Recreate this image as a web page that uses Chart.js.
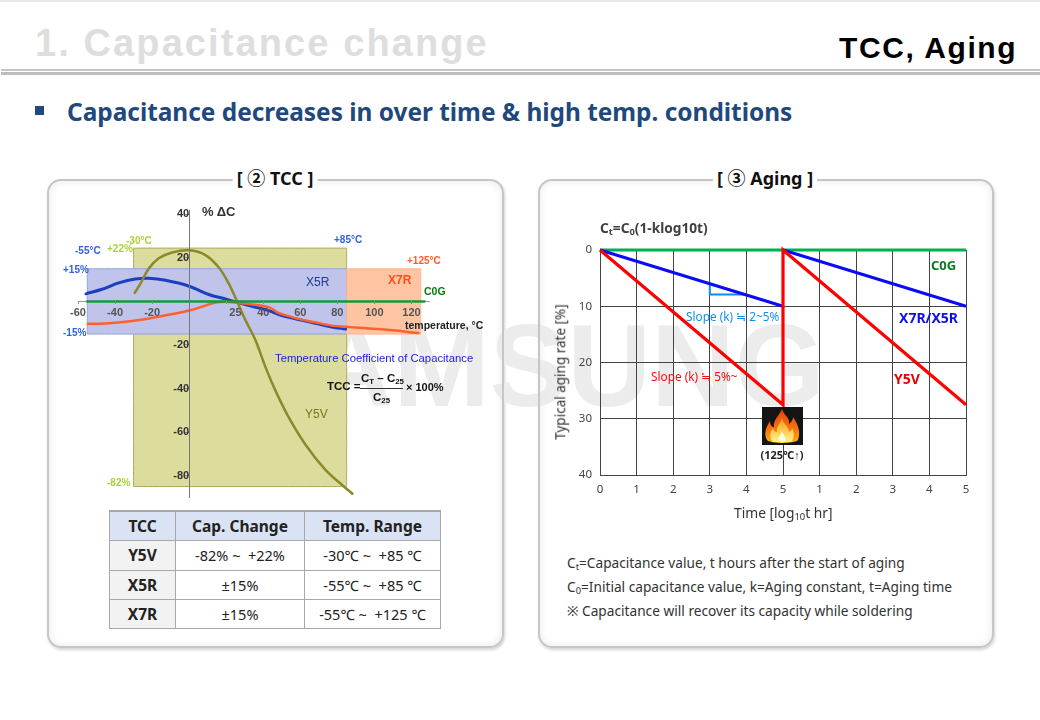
<!DOCTYPE html>
<html>
<head>
<meta charset="utf-8">
<script src="https://cdn.jsdelivr.net/npm/chart.js@4"></script>
<style>
html, body { margin: 0; padding: 0; background: #fff; overflow: hidden; }
#slide { position: relative; width: 1040px; height: 720px; overflow: hidden; font-family: "Noto Sans", sans-serif; border-top: 2px solid #e8e8e8; box-sizing: border-box; margin-top: 0; }
.abs { position: absolute; }
.t { position: absolute; white-space: nowrap; transform: translateY(-50%); line-height: 1; }
.arial { font-family: "Liberation Sans", sans-serif; font-weight: bold; }
.panelBg { position: absolute; top: 177px; height: 469px; border-radius: 14px; background: #fff; box-shadow: 1px 2px 3px #d4d4d4; box-sizing: border-box; }
.panel { position: absolute; top: 177px; height: 469px; box-sizing: border-box; border: 2px solid #c6c6c6; border-radius: 14px; box-shadow: inset 0 0 9px #e9e9e9; }
.panelTitle { position: absolute; top: 163px; height: 26px; line-height: 26px; background: #fff; padding: 0 4px; font-weight: bold; font-size: 18px; color: #111; white-space: nowrap; transform: translateX(-50%); font-family: "Noto Sans", "Noto Sans CJK KR", sans-serif; }
canvas { position: absolute; }
#tccTable { position: absolute; left: 109px; top: 508px; width: 331px; height: 119px; border-collapse: collapse; table-layout: fixed; font-size: 14.5px; color: #222; text-align: center; }
#tccTable td, #tccTable th { border: 1px solid #a8a8a8; padding: 0; }
#tccTable tr:first-child th { background: #dae3f3; border-top: 2px solid #a8a8a8; font-size: 15.5px; }
#tccTable td:first-child { background: #f2f2f2; font-weight: bold; font-size: 15.5px; }
sub { font-size: 68%; line-height: 0; vertical-align: -0.25em; }
.note { left: 567px; font-size: 13.7px; color: #333; }
</style>
</head>
<body>
<div id="slide">
  <div class="t arial" style="left:35px;top:41px;font-size:38px;letter-spacing:2.1px;color:#dedede">1. Capacitance change</div>
  <div class="t arial" style="left:839px;top:46px;font-size:30px;letter-spacing:1.6px;color:#000">TCC, Aging</div>
  <div class="abs" style="left:1px;right:0;top:67px;height:2px;background:#c4c4c4"></div>
  <div class="abs" style="left:1px;right:0;top:70px;height:3px;background:#bdbdbd"></div>
  <div class="abs" style="left:35px;top:104px;width:9px;height:9px;background:#1f497d"></div>
  <div class="t" style="left:67px;top:110px;font-size:24.4px;font-weight:bold;color:#1f497d">Capacitance decreases in over time &amp; high temp. conditions</div>

  <div class="panelBg" style="left:47px;width:457px"></div>
  <div class="panelBg" style="left:538px;width:456px"></div>

  <div class="t arial" style="left:232px;top:364px;font-size:116px;color:#ececec">SAMSUNG</div>

  <div class="panel" style="left:47px;width:457px"></div>
  <div class="panel" style="left:538px;width:456px"></div>
  <div class="panelTitle" style="left:275px">[ ② TCC ]</div>
  <div class="panelTitle" style="left:765px">[ ③ Aging ]</div>

  <canvas id="tccChart" width="440" height="314" style="left:50px;top:193px"></canvas>
  <canvas id="agingChart" width="430" height="295" style="left:550px;top:233px"></canvas>

  <!-- TCC annotations -->
  <div class="t arial" style="left:202px;top:209px;font-size:13px;color:#333">% ΔC</div>
  <div class="t arial" style="left:126px;top:239px;font-size:10px;color:#a8d436">-30°C</div>
  <div class="t arial" style="left:107px;top:247px;font-size:10px;color:#a8d436">+22%</div>
  <div class="t arial" style="left:107px;top:481px;font-size:10px;color:#a8d436">-82%</div>
  <div class="t arial" style="left:75px;top:249px;font-size:10px;color:#2f62e0">-55°C</div>
  <div class="t arial" style="left:63px;top:268px;font-size:10px;color:#2f62e0">+15%</div>
  <div class="t arial" style="left:63px;top:331px;font-size:10px;color:#2f62e0">-15%</div>
  <div class="t arial" style="left:334px;top:238px;font-size:10px;color:#2f62e0">+85°C</div>
  <div class="t arial" style="left:407px;top:259px;font-size:10px;color:#ff5b2b">+125°C</div>
  <div class="t" style="left:306px;top:280px;font-family:'Liberation Sans';font-size:12px;color:#1f3a93">X5R</div>
  <div class="t arial" style="left:388px;top:278px;font-size:12px;color:#ff4d1a">X7R</div>
  <div class="t arial" style="left:424px;top:289px;font-size:10.5px;color:#0a7a0a">C0G</div>
  <div class="t arial" style="left:405px;top:323px;font-size:10.5px;color:#222">temperature, °C</div>
  <div class="t" style="left:275px;top:357px;font-family:'Liberation Sans';font-size:11.3px;color:#2020e0">Temperature Coefficient of Capacitance</div>
  <div class="t arial" style="left:327px;top:385px;font-size:11.5px;color:#111">TCC =</div>
  <div class="t arial" style="left:361px;top:377px;font-size:11.5px;color:#111">C<sub>T</sub> – C<sub>25</sub></div>
  <div class="abs" style="left:360px;top:386px;width:43px;height:1px;background:#333"></div>
  <div class="t arial" style="left:373px;top:396px;font-size:11.5px;color:#111">C<sub>25</sub></div>
  <div class="t arial" style="left:406px;top:385px;font-size:11px;color:#111">× 100%</div>
  <div class="t" style="left:305px;top:412px;font-family:'Liberation Sans';font-size:12px;color:#77771f">Y5V</div>

  <!-- Aging annotations -->
  <div class="t" style="left:600px;top:226px;font-size:13.7px;font-weight:bold;color:#404040">C<sub>t</sub>=C<sub>0</sub>(1-klog10t)</div>
  <div class="t" style="left:931px;top:263px;font-size:13px;font-weight:bold;color:#0a7a20">C0G</div>
  <div class="t" style="left:899px;top:316px;font-size:14px;font-weight:bold;color:#1010e0">X7R/X5R</div>
  <div class="t" style="left:894px;top:377px;font-size:14px;font-weight:bold;color:#e80000">Y5V</div>
  <div class="t" style="left:686px;top:315px;font-size:11.8px;color:#1090f0">Slope (k) ≒ 2~5%</div>
  <div class="t" style="left:651px;top:375px;font-size:11.8px;color:#f01010">Slope (k) ≒ 5%~</div>
  <div class="t" style="top:370px;font-size:13.5px;color:#333;transform:translate(-50%,-50%) rotate(-90deg);left:561px">Typical aging rate [%]</div>
  <div class="t" style="left:734px;top:511px;font-size:13.8px;color:#333">Time [log<sub>10</sub>t hr]</div>

  <svg class="abs" style="left:762px;top:405px" width="41" height="38" viewBox="0 0 41 38">
    <defs>
      <linearGradient id="flameOuter" x1="0" y1="0" x2="0" y2="1">
        <stop offset="0" stop-color="#e8400c"/><stop offset="0.6" stop-color="#f5760e"/><stop offset="1" stop-color="#fbb50f"/>
      </linearGradient>
      <linearGradient id="flameInner" x1="0" y1="0" x2="0" y2="1">
        <stop offset="0" stop-color="#fb9a10"/><stop offset="1" stop-color="#fff58a"/>
      </linearGradient>
    </defs>
    <rect width="41" height="38" fill="#141414"/>
    <path d="M20 2 C22 9 28 10 27 17 C30 15 31 12 31 10 C36 17 39 25 36 33 C33 37 8 37 5 33 C1 26 5 19 8 14 C8 18 10 20 12 20 C11 13 17 9 20 2Z" fill="url(#flameOuter)"/>
    <path d="M20 11 C21 17 27 19 27 25 C29 24 30 22 30 21 C33 26 32 32 29 35 L11 35 C7 31 8 25 11 21 C12 24 13 25 15 25 C14 20 18 17 20 11Z" fill="url(#flameInner)"/>
    <path d="M20 24 C21 28 25 30 23 34 C22 36 18 36 17 34 C15 31 19 28 20 24Z" fill="#fffde0"/>
  </svg>
  <div class="t" style="left:782px;top:452px;font-size:11px;font-weight:bold;color:#222;transform:translate(-50%,-50%)">(125℃↑)</div>

  <table id="tccTable">
    <colgroup><col style="width:66px"><col style="width:129px"><col style="width:136px"></colgroup>
    <tr><th>TCC</th><th>Cap. Change</th><th>Temp. Range</th></tr>
    <tr><td>Y5V</td><td>-82% ~&nbsp; +22%</td><td>-30℃ ~&nbsp; +85 ℃</td></tr>
    <tr><td>X5R</td><td>±15%</td><td>-55℃ ~&nbsp; +85 ℃</td></tr>
    <tr><td>X7R</td><td>±15%</td><td>-55℃ ~&nbsp; +125 ℃</td></tr>
  </table>

  <div class="t note" style="top:561px">C<sub>t</sub>=Capacitance value, t hours after the start of aging</div>
  <div class="t note" style="top:585px">C<sub>0</sub>=Initial capacitance value, k=Aging constant, t=Aging time</div>
  <div class="t note" style="top:609px">※ Capacitance will recover its capacity while soldering</div>
</div>

<script>
// TCC chart values
const x5rTemp = [-55.7, -47, -38, -29, -21.8, -12.8, 0, 10.6, 19.6, 25.6, 34, 43, 50, 59, 68, 77, 84.5];
const x5rDelta = [3.5, 5.6, 8.5, 10.3, 10.6, 9.7, 7, 3.2, 1.1, -0.3, -2.2, -4.2, -6.5, -8.3, -10, -11.7, -12.7];
const x7rTemp = [-54.6, -43.4, -30.8, -18.2, 0, 8.8, 14.2, 21.4, 30, 43, 48.5, 59, 68, 77, 84.5, 104, 123.8];
const x7rDelta = [-10.3, -10, -9, -7.3, -4.2, -1.9, -0.5, -0.2, -1, -2.6, -5.4, -8, -9.6, -11.1, -11.6, -12.8, -14.5];
const y5vTemp = [-29.4, -26.3, -21.8, -16.4, -9.2, 0, 8.8, 16, 21.4, 25.6, 30.5, 35.9, 41.3, 46.7, 53.9, 62.9, 73.7, 82.7, 88.1];
const y5vDelta = [3.9, 8.2, 15.1, 19.8, 22.5, 23.5, 21.3, 15.6, 8.2, 0.5, -8.8, -18, -30.4, -41.2, -53.5, -65.9, -77.5, -84.4, -88.3];
const c0gTemp = [-55, 127];
const c0gDelta = [0, 0];
const tccAxisTemp = [-60, 130];
const tccAxisDelta = [0, 0];

// Specification windows: [from temp, to temp] and [top, bottom]
const y5vBandTemp = [-30, 85];
const y5vBandDelta = [24.5, -85];
const x5rBandTemp = [-55, 85];
const x5rBandDelta = [15, -15];
const x7rBandTemp = [85, 125];
const x7rBandDelta = [15, -15];

const tccXTicks = [-60, -40, -20, 0, 20, 25, 40, 60, 80, 100, 120];
const tccXHidden = [0, 20];
const tccYTicks = [-80, -60, -40, -20, 20, 40];

// Aging chart values
const agingX = [0, 5, 5, 5, 10];
const agingC0g = [0, 0, 0, 0, 0];
const agingX7r = [0, 10, null, 0, 10];
const agingY5v = [0, 27.5, 27.5, 0, 27.5];
const slopeX = [3, 3, 4];
const slopeY = [6, 7.9, 7.9];
const agingXTicks = [0, 1, 2, 3, 4, 5, 6, 7, 8, 9, 10];
const agingXLabels = ["0", "1", "2", "3", "4", "5", "1", "2", "3", "4", "5"];
const agingYTicks = [0, 10, 20, 30, 40];

function toPoints(xs, ys) {
  return xs.map((x, i) => ({ x: x, y: ys[i] }));
}

function curve(xs, ys, color, width, order) {
  return { data: toPoints(xs, ys), borderColor: color, borderWidth: width, pointRadius: 0, tension: 0.35, fill: false, order: order, borderCapStyle: "round" };
}

// one filled window plus its thin outline
function band(xs, ys, fillColor, edgeColor, order) {
  return [
    { data: toPoints(xs, [ys[0], ys[0]]), fill: { value: ys[1] }, backgroundColor: fillColor, borderWidth: 0, pointRadius: 0, order: order + 0.5 },
    { data: toPoints([xs[0], xs[1], xs[1], xs[0], xs[0]], [ys[0], ys[0], ys[1], ys[1], ys[0]]), borderColor: edgeColor, borderWidth: 1, pointRadius: 0, tension: 0.0001, fill: false, order: order }
  ];
}

new Chart(document.getElementById("tccChart"), {
  type: "line",
  data: {
    datasets: [
      curve(c0gTemp, c0gDelta, "#159a3a", 2.5, 1),
      curve(y5vTemp, y5vDelta, "#8a8a2a", 2.5, 2),
      curve(x7rTemp, x7rDelta, "#ff6030", 2.5, 3),
      curve(x5rTemp, x5rDelta, "#1c3fc0", 3, 4),
      { data: toPoints(tccAxisTemp, tccAxisDelta), borderColor: "#999", borderWidth: 1, pointRadius: 0, order: 4.5 },
      ...band(x7rBandTemp, x7rBandDelta, "#ffc5a3", "#ffb48c", 5),
      ...band(x5rBandTemp, x5rBandDelta, "#c0c3ea", "#90a4d8", 6),
      ...band(y5vBandTemp, y5vBandDelta, "#dcdc9c", "#a9ab5e", 7)
    ]
  },
  options: {
    responsive: false,
    animation: false,
    layout: { padding: { left: 28, right: 60, top: 15, bottom: 3 } },
    plugins: { legend: { display: false }, tooltip: { enabled: false } },
    scales: {
      x: {
        type: "linear",
        position: { y: 0 },
        min: -60,
        max: 130,
        afterBuildTicks: (axis) => { axis.ticks = tccXTicks.map((v) => ({ value: v })); },
        grid: { z: 1, drawOnChartArea: false, tickLength: 3, tickColor: (c) => (c.tick && c.tick.value === 25 ? "transparent" : "#888") },
        border: { display: false },
        ticks: {
          z: 1, autoSkip: false, maxRotation: 0, padding: 2, color: "#555",
          font: { family: "Liberation Sans", size: 11, weight: "bold" },
          callback: (v) => (tccXHidden.includes(v) ? "" : String(v))
        }
      },
      y: {
        type: "linear",
        position: { x: 0 },
        min: -90,
        max: 42,
        afterBuildTicks: (axis) => { axis.ticks = tccYTicks.map((v) => ({ value: v })); },
        grid: { z: 1, drawOnChartArea: false, tickLength: 4, tickColor: "#888" },
        border: { z: 1, color: "#777" },
        ticks: {
          z: 1, autoSkip: false, padding: 5, color: "#333",
          font: { family: "Liberation Sans", size: 11, weight: "bold" }
        }
      }
    }
  }
});

new Chart(document.getElementById("agingChart"), {
  type: "line",
  data: {
    datasets: [
      // tiny tension keeps the vertical leg from being merged by the fast path
      { data: toPoints(slopeX, slopeY), borderColor: "#0b8fe8", borderWidth: 2, pointRadius: 0, tension: 0.0001, order: 4 },
      { data: toPoints(agingX, agingY5v), borderColor: "#ff0000", borderWidth: 3.2, pointRadius: 0, order: 1, borderJoinStyle: "miter", clip: false },
      { data: toPoints(agingX, agingX7r), borderColor: "#0a0aff", borderWidth: 3, pointRadius: 0, order: 2, clip: false },
      { data: toPoints(agingX, agingC0g), borderColor: "#00b050", borderWidth: 3, pointRadius: 0, order: 3, clip: false }
    ]
  },
  options: {
    responsive: false,
    animation: false,
    layout: { padding: { left: 0, right: 14, top: 15, bottom: 0 } },
    plugins: { legend: { display: false }, tooltip: { enabled: false } },
    scales: {
      x: {
        type: "linear",
        min: 0,
        max: 10,
        afterBuildTicks: (axis) => { axis.ticks = agingXTicks.map((v) => ({ value: v })); },
        afterFit: (axis) => { axis.height = 55; },
        grid: { color: "#444", drawTicks: false },
        border: { color: "#444" },
        ticks: {
          autoSkip: false, maxRotation: 0, padding: 8, color: "#444",
          font: { family: "Noto Sans", size: 11.5 },
          callback: (v) => agingXLabels[agingXTicks.indexOf(v)]
        }
      },
      y: {
        type: "linear",
        reverse: true,
        min: 0,
        max: 40,
        afterBuildTicks: (axis) => { axis.ticks = agingYTicks.map((v) => ({ value: v })); },
        afterFit: (axis) => { axis.width = 50; },
        grid: { color: "#444", drawTicks: false },
        border: { color: "#444" },
        ticks: {
          autoSkip: false, padding: 8, color: "#444",
          font: { family: "Noto Sans", size: 11.5 }
        }
      }
    }
  }
});
</script>
</body>
</html>
